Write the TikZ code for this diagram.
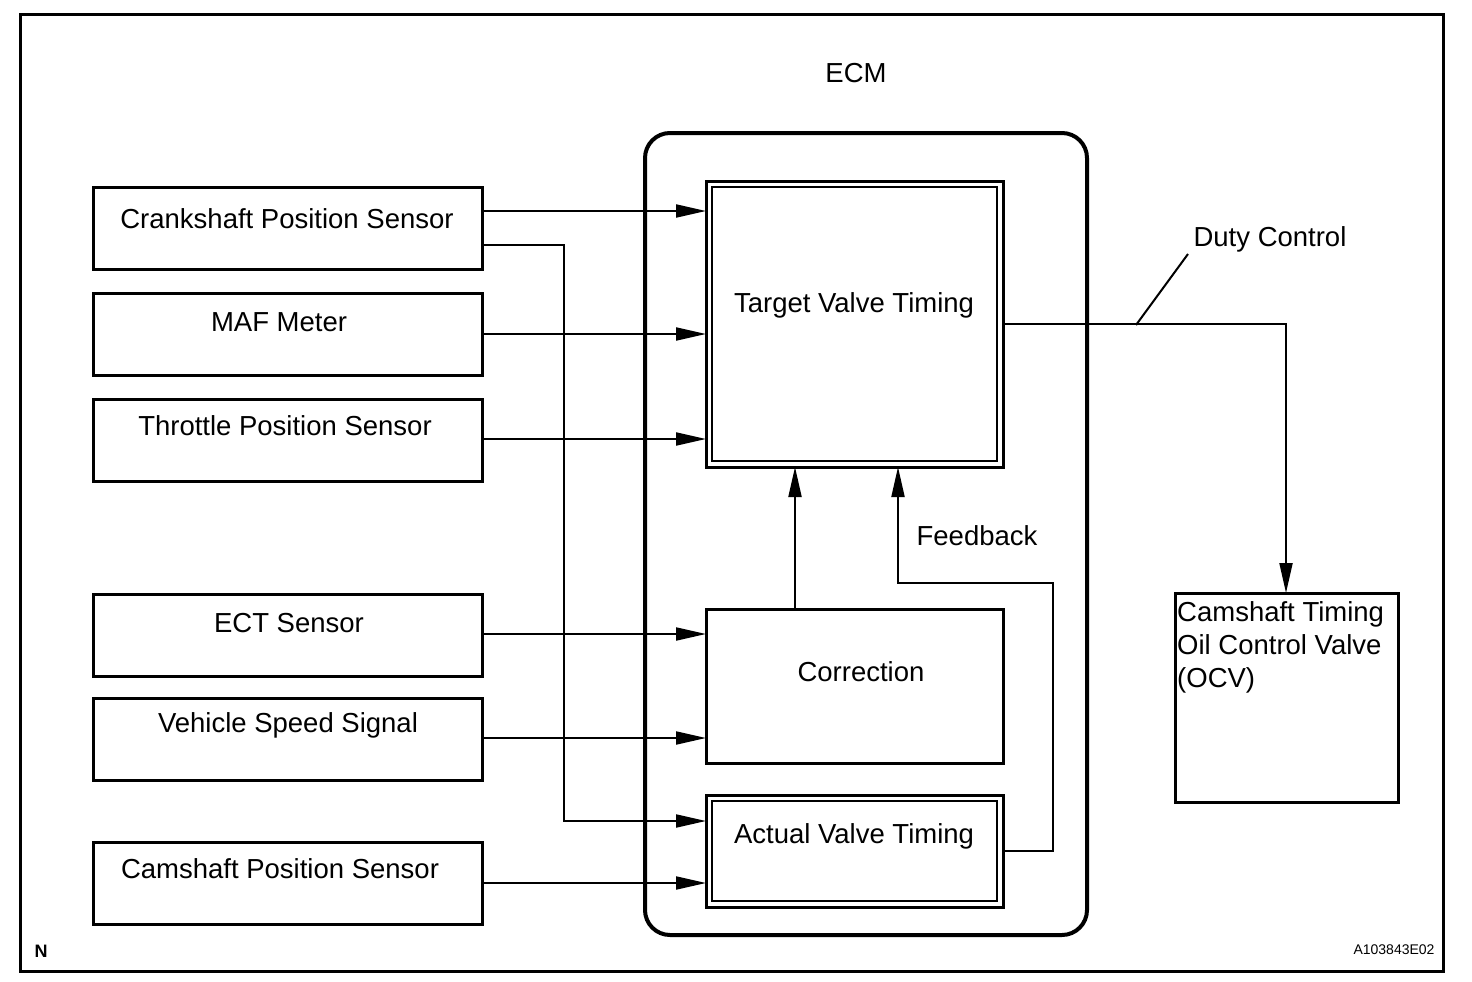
\documentclass[tikz,border=0pt]{standalone}
\usepackage{fontspec}
\setmainfont{Liberation Sans}
\usetikzlibrary{arrows.meta}
\tikzset{
  lbl/.style={font=\fontsize{27.5}{33}\selectfont, inner sep=0pt},
  conn/.style={line width=2pt},
  arr/.style={conn, -{Triangle[length=30pt,width=13pt]}},
}
\begin{document}
\begin{tikzpicture}[x=1pt,y=-1pt]
\useasboundingbox (0,0) rectangle (1472,982);
% frame
\draw[line width=3pt] (20,15) rectangle (1443,971);
% ECM
\draw[line width=4pt, rounded corners=25pt] (645,133) rectangle (1087,935);
\node[lbl] (ecm) at (856,73) {ECM};
% sensors
\foreach \n/\t/\yy/\tx/\ty in {crank/Crankshaft Position Sensor/187/287/219, maf/MAF Meter/293/279/322, tps/Throttle Position Sensor/399/285/426, ect/ECT Sensor/594/289/623, vss/Vehicle Speed Signal/698/288/725, cam/Camshaft Position Sensor/842/280/869}{
  \draw[line width=3pt] (93,\yy) rectangle (482,\yy+82);
  \coordinate (\n) at (482,\yy);
  \node[lbl] (\n t) at (\tx,\ty) {\t};
}
% ECM blocks
\draw[line width=3pt] (706,181) rectangle (1003,467);
\draw[line width=2.5pt] (712,187) rectangle (997,461);
\node[lbl] (tvt) at (854,305) {Target Valve Timing};
\draw[line width=3pt] (706,609) rectangle (1003,763);
\node[lbl] (corr) at (861,672) {Correction};
\draw[line width=3pt] (706,795) rectangle (1003,907);
\draw[line width=2.5pt] (712,801) rectangle (997,901);
\node[lbl] (avt) at (854,836) {Actual Valve Timing};
% OCV
\draw[line width=3pt] (1175,593) rectangle (1398,802);
\node[lbl, anchor=north west, align=left] (ocv) at (1177,601) {Camshaft Timing\\Oil Control Valve\\(OCV)};
% connectors
\draw[arr] (482,211) -- (706,211);
\draw[arr] (482,334) -- (706,334);
\draw[arr] (482,439) -- (706,439);
\draw[arr] (482,634) -- (706,634);
\draw[arr] (482,738) -- (706,738);
\draw[arr] (482,883) -- (706,883);
\draw[arr] (482,245) -- (564,245) -- (564,821) -- (706,821);
\draw[arr] (795,609) -- (795,467);
\draw[arr] (1003,851) -- (1053,851) -- (1053,583) -- (898,583) -- (898,467);
\node[lbl] (fb) at (977,536) {Feedback};
\draw[arr] (1003,324) -- (1286,324) -- (1286,593);
\draw[conn] (1136,325) -- (1188,254);
\node[lbl] (duty) at (1270,239) {Duty Control};
% corner labels
\node[inner sep=0pt, font=\bfseries\fontsize{18}{20}\selectfont] (n) at (41,951) {N};
\node[inner sep=0pt, font=\fontsize{14}{16}\selectfont] (id) at (1394,950) {A103843E02};
\end{tikzpicture}
\end{document}
